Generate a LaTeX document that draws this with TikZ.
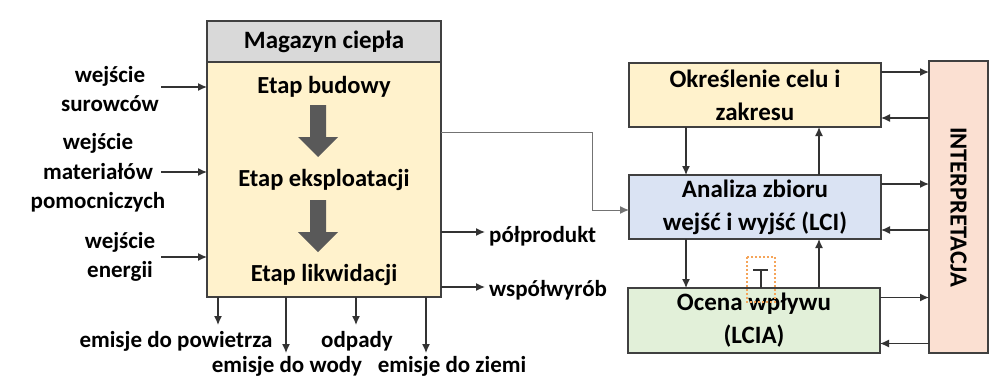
\documentclass[tikz,border=0pt]{standalone}
\usepackage{fontspec}
\setmainfont{Carlito}
\usepackage{tikz}
\usetikzlibrary{shapes,arrows.meta}
\usetikzlibrary{calc}
\usetikzlibrary{positioning}
\definecolor{headgray}{HTML}{D9D9D9}
\definecolor{paleyellow}{HTML}{FFF2CC}
\definecolor{paleblue}{HTML}{DAE3F3}
\definecolor{palegreen}{HTML}{E2F0D9}
\definecolor{palesalmon}{HTML}{FBE0D2}
\definecolor{cursororange}{HTML}{F5A55A}
\tikzstyle{block} = [draw=black!75, line width=1.5pt, rectangle, inner sep=0pt,
    outer sep=0pt, align=center, font=\bfseries\fontsize{25}{33}\selectfont]
\tikzstyle{flowtext} = [align=center, inner sep=1pt,
    font=\bfseries\fontsize{23}{29.5}\selectfont]
\tikzstyle{stagetext} = [inner sep=1pt, font=\bfseries\fontsize{24.5}{30}\selectfont]
\tikzstyle{flow} = [draw=black!80, line width=1.3pt, ->]
\tikzstyle{bigarrow} = [fill=black!65]

\begin{document}
\begin{tikzpicture}[x=1pt, y=-1pt, >={Latex[length=9pt,width=8pt]}]
      \useasboundingbox (0,0) rectangle (1001,378);

      % heat storage with its stages
      \node [block, fill=headgray, minimum width=234pt, minimum height=41pt] (head) at (324,41.5) {Magazyn ciepła};
      \node [block, fill=paleyellow, minimum width=234pt, minimum height=235pt, below=0pt of head] (body) {};
      \node [stagetext] (build) at (324,87) {Etap budowy};
      \node [stagetext] (operate) at (324,180) {Etap eksploatacji};
      \node [stagetext] (dispose) at (324,275) {Etap likwidacji};
      \foreach \y in {105,200}
        \fill [bigarrow] (318,\y) ++(-8,0) -- ++(16,0) -- ++(0,32) -- ++(12,0)
          -- ++(-20,20) -- ++(-20,-20) -- ++(12,0) -- cycle;

      % inputs
      \node [flowtext] (raw) at (110,89) {wejście\\surowców};
      \node [flowtext] (aux) at (98,173) {wejście\\materiałów\\pomocniczych};
      \node [flowtext] (energy) at (120,257) {wejście\\energii};
      \coordinate (inraw) at (161,87);
      \coordinate (inaux) at (161,172);
      \coordinate (inenergy) at (161,257);
      \foreach \c in {inraw,inaux,inenergy}
        \draw [flow] (\c) -- (\c -| body.west);

      % outputs
      \coordinate (outsemi) at (485,232);
      \coordinate (outco) at (485,287);
      \draw [flow] (outsemi -| body.east) -- (outsemi);
      \draw [flow] (outco -| body.east) -- (outco);
      \node [flowtext, anchor=west] (semi) at ([xshift=3pt,yshift=-4pt]outsemi) {półprodukt};
      \node [flowtext, anchor=west] (coprod) at ([xshift=3pt,yshift=-3pt]outco) {współwyrób};
      \foreach \x/\y in {218/325, 286/353, 356/325, 426/353}
        \draw [flow] (body.south -| \x,0) -- (\x,\y);
      \node [flowtext] (air) at (176,341) {emisje do powietrza};
      \node [flowtext] (waste) at (357,341) {odpady};
      \node [flowtext] (water) at (287,366) {emisje do wody};
      \node [flowtext] (soil) at (452,366) {emisje do ziemi};

      % LCA phases
      \node [block, fill=paleyellow, minimum width=252pt, minimum height=64pt] (goal) at (755,95) {Określenie celu i\\zakresu};
      \node [block, fill=paleblue, minimum width=252pt, minimum height=64pt] (lci) at (755,207) {Analiza zbioru\\wejść i wyjść (LCI)};
      \node [block, fill=palegreen, minimum width=252pt, minimum height=65pt] (lcia) at (754,320.5) {Ocena wpływu\\(LCIA)};
      \node [block, fill=palesalmon, minimum width=59pt, minimum height=292pt] (interp) at (958.5,207) {};
      \node [stagetext, rotate=-90] (interptext) at (interp) {INTERPRETACJA};

      \foreach \n in {goal,lci,lcia} {
        \draw [flow] ([yshift=23pt]\n.east) -- ([yshift=23pt]\n.east -| interp.west);
        \draw [flow] ([yshift=-23pt]\n.east -| interp.west) -- ([yshift=-23pt]\n.east);
      }
      \draw [flow] ([xshift=-69pt]goal.south) -- ([xshift=-69pt]lci.north);
      \draw [flow] ([xshift=64pt]lci.north) -- ([xshift=64pt]goal.south);
      \draw [flow] ([xshift=-69pt]lci.south) -- ([xshift=-68pt]lcia.north);
      \draw [flow] ([xshift=65pt]lcia.north) -- ([xshift=64pt]lci.south);

      % link from storage to inventory
      \coordinate (bend) at (592,132);
      \draw [flow, draw=black!55, line width=1pt] (body.east |- bend) -- (bend) |- ([yshift=-3pt]lci.west);

      % cursor mark
      \draw [cursororange, dash pattern=on 2pt off 2pt, line width=1.2pt] (747,257) rectangle (775,302);
      \draw [black!80, line width=1.5pt] (753,270) -- (768,270) (761,270) -- (761,288);
    \end{tikzpicture}
\end{document}
